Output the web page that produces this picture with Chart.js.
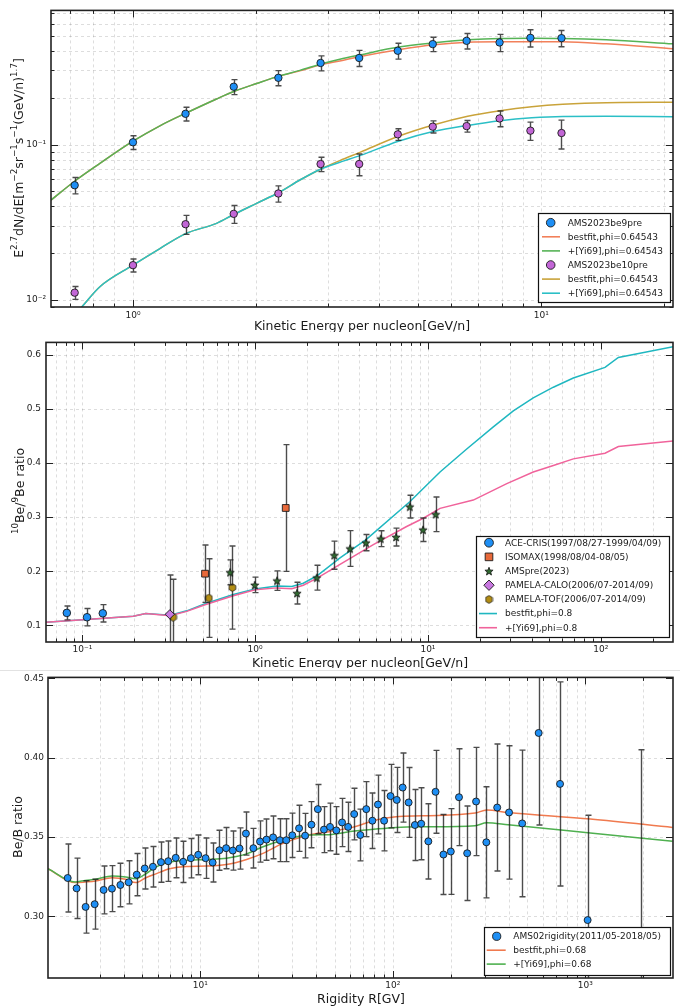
<!DOCTYPE html>
<html>
<head>
<meta charset="utf-8">
<script src="https://cdn.jsdelivr.net/npm/chart.js@4.4.0/dist/chart.umd.min.js"></script>
<style>
  html, body { margin: 0; padding: 0; background: #fff; }
  #wrap { position: relative; width: 680px; height: 1007px; }
  canvas { position: absolute; left: 0; }
</style>
</head>
<body>
<div id="wrap">
  <canvas id="c1" width="680" height="332" style="top:0"></canvas>
  <canvas id="c2" width="680" height="336" style="top:332px"></canvas>
  <canvas id="c3" width="680" height="339" style="top:668px"></canvas>
</div>
<script>
// ---------- panel 1 : Be9 / Be10 spectra ----------
const ekAms = [0.72, 1.0, 1.345, 1.765, 2.27, 2.88, 3.58, 4.45, 5.42, 6.56, 7.9, 9.4, 11.2];
const be9Flux = [0.0547, 0.1034, 0.1577, 0.2355, 0.2688, 0.335, 0.3607, 0.4015, 0.443, 0.465, 0.454, 0.486, 0.484];
const be9Err = [0.0066, 0.0105, 0.016, 0.026, 0.03, 0.037, 0.043, 0.047, 0.047, 0.053, 0.058, 0.062, 0.058];
const be10Flux = [0.01113, 0.01673, 0.0307, 0.0358, 0.0484, 0.0749, 0.0749, 0.1163, 0.1303, 0.1314, 0.1472, 0.1228, 0.1186];
const be10Err = [0.00106, 0.0016, 0.0043, 0.0047, 0.0058, 0.008, 0.012, 0.01, 0.0117, 0.0113, 0.017, 0.0165, 0.025];

const fitE9 = [0.63, 0.725, 0.83, 1.0, 1.164, 1.346, 1.602, 1.777, 2.007, 2.276, 2.563, 2.901, 3.21, 3.606, 4.467, 5.46, 6.6, 7.92, 9.47, 11.28, 14.42, 21];
const be9Best = [0.0439, 0.0589, 0.0756, 0.105, 0.132, 0.159, 0.1965, 0.221, 0.247, 0.2756, 0.2979, 0.3268, 0.345, 0.369, 0.4075, 0.4385, 0.456, 0.459, 0.459, 0.4585, 0.4447, 0.4135];
const be9Yi = [0.0439, 0.0589, 0.0756, 0.105, 0.132, 0.159, 0.1965, 0.221, 0.247, 0.2756, 0.300, 0.331, 0.354, 0.378, 0.4243, 0.452, 0.4717, 0.4818, 0.4835, 0.4818, 0.4717, 0.4447];
const fitE10 = [0.749, 0.83, 1.0, 1.164, 1.346, 1.602, 1.756, 2.007, 2.276, 2.563, 2.87, 3.21, 3.606, 4.467, 5.46, 6.6, 7.92, 9.47, 11.28, 14.42, 21];
const be10Best = [0.009, 0.01216, 0.01673, 0.0214, 0.0267, 0.0311, 0.0352, 0.0418, 0.0491, 0.0591, 0.0691, 0.0788, 0.0893, 0.113, 0.134, 0.152, 0.165, 0.175, 0.1816, 0.186, 0.187];
const be10Yi = [0.009, 0.01216, 0.01673, 0.0214, 0.0267, 0.0311, 0.0352, 0.0418, 0.0491, 0.0591, 0.0691, 0.0769, 0.0851, 0.105, 0.1216, 0.1328, 0.1423, 0.1486, 0.1517, 0.1522, 0.151];

// ---------- panel 2 : 10Be/9Be ----------
const aceE = [0.0813, 0.1064, 0.1313];
const aceR = [0.1232, 0.1152, 0.1225];
const aceErr = [0.0128, 0.016, 0.016];
const isoE = [0.513, 1.503];
const isoR = [0.1956, 0.3169];
const isoErr = [0.053, 0.117];
const amsE = [0.716, 0.995, 1.339, 1.748, 2.273, 2.87, 3.54, 4.38, 5.33, 6.54, 7.85, 9.37, 11.09];
const amsR = [0.1981, 0.1749, 0.1828, 0.1597, 0.1883, 0.2297, 0.242, 0.2529, 0.2602, 0.2632, 0.3193, 0.2767, 0.3052];
const amsErr = [0.023, 0.0143, 0.018, 0.02, 0.023, 0.026, 0.033, 0.015, 0.0146, 0.0165, 0.021, 0.0216, 0.032];
const caloE = [0.3206];
const caloR = [0.1206];
const caloErr = [0.0725];
const tofE = [0.335, 0.539, 0.738];
const tofR = [0.1152, 0.1506, 0.17];
const tofErr = [0.07, 0.0725, 0.0767];

const bestE = [0.0615, 0.197, 0.233, 0.322, 0.402, 0.513, 0.748, 1.0, 1.334, 1.63, 1.90, 2.27, 3.10, 4.385, 7.85, 11.75, 16.77, 23.9, 31.2, 40.7, 53.2, 69.4, 105.9, 126.5, 263];
const bestR = [0.106, 0.117, 0.122, 0.119, 0.127, 0.140, 0.157, 0.1675, 0.173, 0.1718, 0.178, 0.1913, 0.2248, 0.2584, 0.3284, 0.3832, 0.4258, 0.4667, 0.496, 0.5202, 0.5398, 0.5567, 0.5763, 0.5946, 0.6147];
const yiE = [0.0615, 0.197, 0.233, 0.322, 0.402, 0.513, 0.748, 1.0, 1.334, 1.63, 1.90, 2.27, 3.10, 4.83, 7.53, 9.40, 11.75, 18.3, 28.6, 40.7, 53.2, 69.4, 105.9, 126.5, 263];
const yiR = [0.106, 0.117, 0.122, 0.118, 0.126, 0.1384, 0.155, 0.1658, 0.1694, 0.168, 0.1743, 0.187, 0.2127, 0.2493, 0.2827, 0.2979, 0.3162, 0.3315, 0.3619, 0.3832, 0.3954, 0.4075, 0.4179, 0.4302, 0.4404];
const ratioTicks = [0.1, 0.2, 0.3, 0.4, 0.5, 0.6];

// ---------- panel 3 : Be/B vs rigidity ----------
const rig = [2.05, 2.28, 2.54, 2.83, 3.15, 3.48, 3.85, 4.25, 4.68, 5.15,
  5.68, 6.25, 6.82, 7.46, 8.15, 8.94, 9.76, 10.66, 11.6, 12.57,
  13.63, 14.76, 16.0, 17.27, 18.88, 20.44, 22.08, 23.9, 25.92, 27.97,
  30.06, 32.6, 35.04, 37.8, 40.8, 43.9, 47.2, 50.9, 54.5, 58.6,
  63.0, 67.8, 72.8, 78.3, 83.7, 90.1, 97.3, 104.8, 112.5, 120.8,
  130.2, 140.4, 152.9, 166.7, 183.2, 200, 220.6, 243.3, 270.6, 305.9,
  348.3, 401.4, 469.7, 571.9, 738.4, 1027, 1954];
const beb = [0.3242, 0.3177, 0.3060, 0.3077, 0.3167, 0.3175, 0.3198, 0.3215, 0.3263, 0.3302,
  0.3313, 0.3342, 0.3348, 0.3369, 0.3344, 0.3367, 0.3388, 0.3367, 0.3340, 0.3417,
  0.3430, 0.3415, 0.3428, 0.3522, 0.3430, 0.3472, 0.3484, 0.3498, 0.3480, 0.3480,
  0.3511, 0.3555, 0.3509, 0.3578, 0.3676, 0.3547, 0.3564, 0.3542, 0.3592, 0.3564,
  0.3645, 0.3513, 0.3676, 0.3603, 0.3705, 0.3603, 0.3758, 0.3734, 0.3812, 0.3718,
  0.3576, 0.3584, 0.3473, 0.3785, 0.3390, 0.3409, 0.3751, 0.3398, 0.3724, 0.3467,
  0.3686, 0.3655, 0.3586, 0.4156, 0.3835, 0.2977, 0.25];
const bebErr = [0.0214, 0.019, 0.0165, 0.0157, 0.0151, 0.0145, 0.0137, 0.0136, 0.0133, 0.0129,
  0.0128, 0.0127, 0.0127, 0.0125, 0.013, 0.0124, 0.0125, 0.0127, 0.0123, 0.0126,
  0.013, 0.0123, 0.013, 0.0136, 0.0125, 0.013, 0.013, 0.0135, 0.0135, 0.0135,
  0.014, 0.0145, 0.014, 0.0145, 0.0155, 0.0145, 0.015, 0.015, 0.0152, 0.0155,
  0.0163, 0.0163, 0.0173, 0.0175, 0.0185, 0.019, 0.02, 0.0205, 0.0218, 0.022,
  0.0224, 0.0227, 0.0237, 0.0261, 0.0252, 0.027, 0.0305, 0.0298, 0.0341, 0.035,
  0.04, 0.042, 0.0462, 0.058, 0.0643, 0.066, 0.155];
const fitR = [1.62, 2.243, 2.53, 2.854, 3.49, 4.10, 4.62, 5.22, 5.88, 6.91, 8.45, 10.75, 13.68, 17.41, 20.86, 26.55, 36.6, 46.6, 61.7, 81.8, 104, 142.5, 267.4, 307, 396.7, 1061, 2837];
const bebBest = [0.3301, 0.3213, 0.3217, 0.3223, 0.3244, 0.3234, 0.3213, 0.3244, 0.3268, 0.3300, 0.3315, 0.3317, 0.3327, 0.3359, 0.3394, 0.3457, 0.3513, 0.3534, 0.3561, 0.3607, 0.3628, 0.3634, 0.3651, 0.3670, 0.3655, 0.3614, 0.3561];
const bebYi = [0.3301, 0.3217, 0.3227, 0.3234, 0.3254, 0.3248, 0.3238, 0.3269, 0.3311, 0.3342, 0.3353, 0.3359, 0.3367, 0.3394, 0.3436, 0.3478, 0.3513, 0.3515, 0.3536, 0.3551, 0.3561, 0.3565, 0.3572, 0.3590, 0.3578, 0.3526, 0.3473];
const bebTicks = [0.30, 0.35, 0.40, 0.45];

// ---------- helpers ----------
const FONT = '"DejaVu Sans", "Liberation Sans", sans-serif';
const pts = (xs, ys) => xs.map((x, i) => ({ x, y: ys[i] }));
const SUP = { '-': '⁻', '0': '⁰', '1': '¹', '2': '²', '3': '³', '4': '⁴', '5': '⁵', '6': '⁶', '7': '⁷', '8': '⁸', '9': '⁹' };
const isPow10 = v => { const e = Math.log10(v); return Math.abs(e - Math.round(e)) < 1e-6; };
const isNice = v => { const p = Math.pow(10, Math.floor(Math.log10(v) + 1e-9)); const m = v / p; return Math.abs(m - Math.round(m)) < 1e-6; };
const powLabel = v => isPow10(v) ? '10' + String(Math.round(Math.log10(v))).split('').map(c => SUP[c]).join('') : '';

function shapeImage(size, draw) {
  const c = document.createElement('canvas');
  c.width = c.height = size;
  draw(c.getContext('2d'), size / 2);
  return c;
}
const starImg = shapeImage(10, (g, r) => {
  g.beginPath();
  for (let k = 0; k < 10; k++) {
    const rad = k % 2 ? (r - 0.7) * 0.42 : r - 0.7;
    const a = -Math.PI / 2 + k * Math.PI / 5;
    g.lineTo(r + rad * Math.cos(a), r + 0.5 + rad * Math.sin(a));
  }
  g.closePath();
  g.fillStyle = '#2f6a2f'; g.fill();
  g.strokeStyle = '#111'; g.lineWidth = 0.8; g.stroke();
});
const hexImg = shapeImage(9, (g, r) => {
  g.beginPath();
  for (let k = 0; k < 6; k++) {
    const a = -Math.PI / 2 + k * Math.PI / 3;
    g.lineTo(r + (r - 0.6) * Math.cos(a), r + (r - 0.6) * Math.sin(a));
  }
  g.closePath();
  g.fillStyle = '#b38d12'; g.fill();
  g.strokeStyle = '#222'; g.lineWidth = 0.8; g.stroke();
});

// rich text (superscripts) for axis titles
function drawRich(ctx, segs, cx, cy, size, vertical) {
  ctx.save();
  ctx.translate(cx, cy);
  if (vertical) ctx.rotate(-Math.PI / 2);
  const fonts = segs.map(s => (s[1] ? size * 0.7 : size) + 'px ' + FONT);
  let w = 0;
  segs.forEach((s, i) => { ctx.font = fonts[i]; w += ctx.measureText(s[0]).width; });
  let x = -w / 2;
  ctx.fillStyle = '#1a1a1a';
  ctx.textBaseline = 'alphabetic';
  segs.forEach((s, i) => {
    ctx.font = fonts[i];
    ctx.fillText(s[0], x, size * 0.36 - (s[1] ? size * 0.42 : 0));
    x += ctx.measureText(s[0]).width;
  });
  ctx.restore();
}

function tickList(scale) {
  const log = scale.type === 'logarithmic';
  return scale.ticks
    .filter(t => !log || isNice(t.value))
    .map(t => ({ px: scale.getPixelForValue(t.value), major: !log || isPow10(t.value) }));
}

// matplotlib-like axes: dashed grid, inward ticks on all sides, frame
const mplAxes = {
  id: 'mplAxes',
  beforeDatasetsDraw(chart) {
    const { ctx, chartArea: a, scales: { x, y } } = chart;
    const o = chart.options.plugins.mplAxes;
    ctx.save();
    if (o.sepY != null) {
      ctx.fillStyle = '#e2e2e2';
      ctx.fillRect(0, o.sepY, chart.width, 1);
    }
    ctx.strokeStyle = 'rgba(0,0,0,0.17)';
    ctx.lineWidth = 0.8;
    ctx.setLineDash([3, 3]);
    tickList(x).forEach(t => {
      if (t.px <= a.left + 1 || t.px >= a.right - 1) return;
      const px = Math.round(t.px) + 0.5;
      ctx.beginPath(); ctx.moveTo(px, a.top); ctx.lineTo(px, a.bottom); ctx.stroke();
    });
    tickList(y).forEach(t => {
      if (t.px <= a.top + 1 || t.px >= a.bottom - 1) return;
      const py = Math.round(t.px) + 0.5;
      ctx.beginPath(); ctx.moveTo(a.left, py); ctx.lineTo(a.right, py); ctx.stroke();
    });
    ctx.restore();
  },
  afterDatasetsDraw(chart) {
    const { ctx, chartArea: a, scales: { x, y } } = chart;
    ctx.save();
    ctx.strokeStyle = '#222';
    ctx.lineWidth = 1;
    tickList(x).forEach(t => {
      const L = t.major ? 7 : 3.5;
      const px = Math.round(t.px) + 0.5;
      ctx.beginPath();
      ctx.moveTo(px, a.bottom); ctx.lineTo(px, a.bottom - L);
      ctx.moveTo(px, a.top); ctx.lineTo(px, a.top + L);
      ctx.stroke();
    });
    tickList(y).forEach(t => {
      const L = t.major ? 7 : 3.5;
      const py = Math.round(t.px) + 0.5;
      ctx.beginPath();
      ctx.moveTo(a.left, py); ctx.lineTo(a.left + L, py);
      ctx.moveTo(a.right, py); ctx.lineTo(a.right - L, py);
      ctx.stroke();
    });
    ctx.lineWidth = 1.6;
    ctx.strokeRect(a.left, a.top, a.right - a.left, a.bottom - a.top);
    ctx.restore();
  },
  afterDraw(chart) {
    const o = chart.options.plugins.mplAxes;
    const ctx = chart.ctx;
    drawRich(ctx, o.xTitle, o.xPos[0], o.xPos[1], 12.5, false);
    drawRich(ctx, o.yTitle, o.yPos[0], o.yPos[1], 12.5, true);
    // legend box
    const L = o.legend;
    ctx.save();
    ctx.fillStyle = '#fff';
    ctx.fillRect(L.box[0], L.box[1], L.box[2], L.box[3]);
    ctx.strokeStyle = '#111';
    ctx.lineWidth = 1.2;
    ctx.strokeRect(L.box[0] + 0.5, L.box[1] + 0.5, L.box[2], L.box[3]);
    L.rows.forEach((idx, r) => {
      const ds = chart.data.datasets[idx];
      const cy = L.y0 + r * L.step;
      if (ds.type === 'line') {
        ctx.strokeStyle = ds.borderColor;
        ctx.lineWidth = 1.6;
        ctx.beginPath(); ctx.moveTo(L.line[0], cy); ctx.lineTo(L.line[1], cy); ctx.stroke();
      } else {
        ctx.fillStyle = ds.backgroundColor;
        ctx.strokeStyle = ds.borderColor;
        ctx.lineWidth = ds.borderWidth;
        Chart.helpers.drawPoint(ctx, { pointStyle: ds.pointStyle, radius: ds.pointRadius + 0.6, borderWidth: ds.borderWidth, rotation: 0 }, L.mx, cy);
      }
      ctx.fillStyle = '#1a1a1a';
      ctx.font = '9px ' + FONT;
      ctx.textBaseline = 'middle';
      ctx.fillText(ds.label, L.tx, cy + 0.5);
    });
    ctx.restore();
  }
};

// error bars, drawn right before each scatter set
const errBars = {
  id: 'errBars',
  beforeDatasetDraw(chart, args) {
    const ds = chart.data.datasets[args.index];
    if (!ds.errors) return;
    const { ctx, chartArea: a, scales: { x, y } } = chart;
    ctx.save();
    ctx.beginPath();
    ctx.rect(a.left, a.top, a.right - a.left, a.bottom - a.top);
    ctx.clip();
    ctx.strokeStyle = 'rgba(25,25,25,0.78)';
    ctx.lineWidth = 1.4;
    ds.data.forEach((p, i) => {
      const e = ds.errors[i];
      const px = Math.round(x.getPixelForValue(p.x)) + 0.5;
      const top = y.getPixelForValue(p.y + e);
      const bot = y.getPixelForValue(p.y - e);
      ctx.beginPath();
      ctx.moveTo(px, top); ctx.lineTo(px, bot);
      ctx.moveTo(px - 3, top); ctx.lineTo(px + 3, top);
      ctx.moveTo(px - 3, bot); ctx.lineTo(px + 3, bot);
      ctx.stroke();
    });
    ctx.restore();
  }
};

function marks(label, xs, ys, errs, color, style, radius) {
  return {
    type: 'scatter', label, data: pts(xs, ys), errors: errs,
    backgroundColor: color, borderColor: '#1a1a1a', borderWidth: 0.9,
    pointStyle: style, pointRadius: radius, order: 0, clip: 0
  };
}
function curve(label, xs, ys, color, smooth) {
  return {
    type: 'line', label, data: pts(xs, ys), borderColor: color, borderWidth: 1.5,
    pointRadius: 0, fill: false, tension: 0,
    cubicInterpolationMode: smooth ? 'monotone' : 'default', clip: 0
  };
}

// keep the axis range exactly as asked (log scale likes to round it)
function pinRange(lo, hi, fixed) {
  return s => {
    s.min = lo;
    s.max = hi;
    s.ticks = fixed ? fixed.map(v => ({ value: v }))
      : s.ticks.filter(t => t.value >= lo * 0.9999 && t.value <= hi * 1.0001);
  };
}

function makeChart(id, p) {
  const tickFont = { family: FONT, size: 9 };
  // later curves sit on top, like matplotlib call order
  p.datasets.forEach((d, i) => { if (d.type === 'line') d.order = 100 - i; });
  return new Chart(document.getElementById(id), {
    type: 'scatter',
    data: { datasets: p.datasets },
    options: {
      responsive: false, animation: false, devicePixelRatio: 1, events: [],
      layout: { padding: { left: 0, right: 7, top: p.top, bottom: 0 } },
      scales: {
        x: {
          type: 'logarithmic', min: p.xRange[0], max: p.xRange[1],
          grid: { display: false, drawTicks: false }, border: { display: false },
          ticks: { autoSkip: false, maxRotation: 0, padding: p.xPad, color: '#222', font: tickFont, callback: powLabel },
          afterBuildTicks: pinRange(p.xRange[0], p.xRange[1]),
          afterFit: s => { s.height = p.xHeight; }
        },
        y: {
          type: p.yType, min: p.yRange[0], max: p.yRange[1],
          grid: { display: false, drawTicks: false }, border: { display: false },
          ticks: { autoSkip: false, padding: p.yPad, color: '#222', font: tickFont, callback: p.yLabel },
          afterBuildTicks: pinRange(p.yRange[0], p.yRange[1], p.yTicks),
          afterFit: s => { s.width = p.left; }
        }
      },
      plugins: {
        legend: { display: false }, tooltip: { enabled: false },
        mplAxes: { xTitle: p.xTitle, yTitle: p.yTitle, xPos: p.xPos, yPos: p.yPos, legend: p.legend, sepY: p.sepY }
      }
    },
    plugins: [mplAxes, errBars]
  });
}

// ---------- panel 1 ----------
makeChart('c1', {
  top: 8, left: 51, xHeight: 25, xPad: 3, yPad: 5,
  xRange: [0.63, 21], yType: 'logarithmic', yRange: [0.009, 0.73], yLabel: powLabel,
  xTitle: [['Kinetic Energy per nucleon[GeV/n]', 0]],
  yTitle: [['E', 0], ['2.7', 1], ['dN/dE[m', 0], ['−2', 1], ['sr', 0], ['−1', 1], ['s', 0], ['−1', 1], ['(GeV/n)', 0], ['1.7', 1], [']', 0]],
  xPos: [362, 325], yPos: [18, 158],
  legend: { box: [538, 213, 132, 89], rows: [0, 1, 2, 3, 4, 5], y0: 222.7, step: 14.1, mx: 550.7, line: [542, 560], tx: 567.7 },
  datasets: [
    marks('AMS2023be9pre', ekAms, be9Flux, be9Err, '#1e8ff5', 'circle', 3.7),
    curve('bestfit,phi=0.64543', fitE9, be9Best, '#f2805a', true),
    curve('+[Yi69],phi=0.64543', fitE9, be9Yi, '#56b356', true),
    marks('AMS2023be10pre', ekAms, be10Flux, be10Err, '#c266d6', 'circle', 3.7),
    curve('bestfit,phi=0.64543', fitE10, be10Best, '#c9a33a', true),
    curve('+[Yi69],phi=0.64543', fitE10, be10Yi, '#2bbfc6', true)
  ]
});

// ---------- panel 2 ----------
makeChart('c2', {
  top: 7, left: 46, xHeight: 26, xPad: 2, yPad: 5,
  xRange: [0.0616, 262], yType: 'linear', yRange: [0.0695, 0.6225], yTicks: ratioTicks,
  yLabel: v => v.toFixed(1),
  xTitle: [['Kinetic Energy per nucleon[GeV/n]', 0]],
  yTitle: [['10', 1], ['Be/', 0], ['9', 1], ['Be ratio', 0]],
  xPos: [360, 330], yPos: [19, 159],
  legend: { box: [476, 204, 193, 101], rows: [0, 1, 2, 3, 4, 5, 6], y0: 210.7, step: 14.17, mx: 489, line: [479, 497], tx: 505 },
  datasets: [
    marks('ACE-CRIS(1997/08/27-1999/04/09)', aceE, aceR, aceErr, '#1e8ff5', 'circle', 3.8),
    marks('ISOMAX(1998/08/04-08/05)', isoE, isoR, isoErr, '#e8693a', 'rect', 4.8),
    marks('AMSpre(2023)', amsE, amsR, amsErr, '#2f6a2f', starImg, 4.5),
    marks('PAMELA-CALO(2006/07-2014/09)', caloE, caloR, caloErr, '#c878e0', 'rectRot', 4.6),
    marks('PAMELA-TOF(2006/07-2014/09)', tofE, tofR, tofErr, '#b38d12', hexImg, 4.5),
    curve('bestfit,phi=0.8', bestE, bestR, '#1fb7c0', false),
    curve('+[Yi69],phi=0.8', yiE, yiR, '#f0639b', false)
  ]
});

// ---------- panel 3 ----------
makeChart('c3', {
  top: 8, left: 48, xHeight: 29, xPad: 2, yPad: 4, sepY: 2,
  xRange: [1.62, 2850], yType: 'linear', yRange: [0.2612, 0.4506], yTicks: bebTicks,
  yLabel: v => v.toFixed(2),
  xTitle: [['Rigidity R[GV]', 0]],
  yTitle: [['Be/B ratio', 0]],
  xPos: [361, 330], yPos: [17, 159],
  legend: { box: [484, 259, 186, 48], rows: [0, 1, 2], y0: 268.3, step: 13.9, mx: 496.7, line: [486.7, 505.7], tx: 513.3 },
  datasets: [
    marks('AMS02rigidity(2011/05-2018/05)', rig, beb, bebErr, '#1e8ff5', 'circle', 3.5),
    curve('bestfit,phi=0.68', fitR, bebBest, '#f07a4f', true),
    curve('+[Yi69],phi=0.68', fitR, bebYi, '#4fb050', true)
  ]
});
</script>
</body>
</html>
